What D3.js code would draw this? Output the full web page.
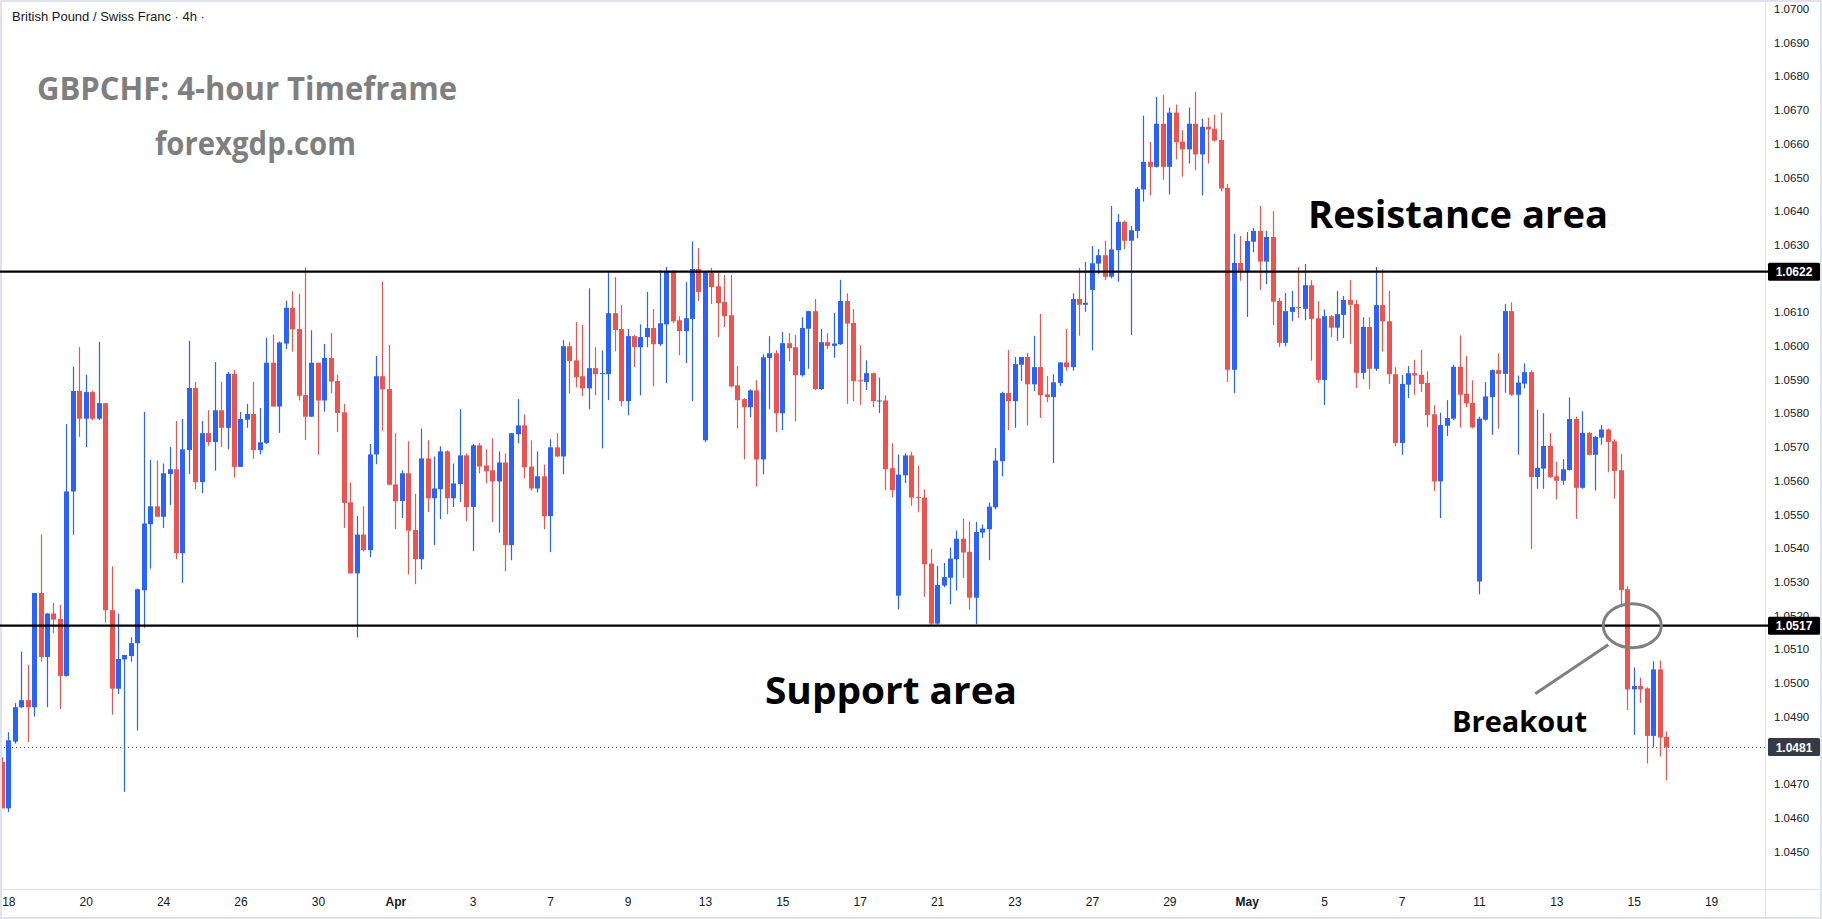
<!DOCTYPE html>
<html>
<head>
<meta charset="utf-8">
<script src="https://cdn.jsdelivr.net/npm/d3@7"></script>
<style>
  html, body { margin: 0; padding: 0; background: #fff; }
  svg { display: block; }
</style>
</head>
<body>
<svg id="chart"></svg>
<script>
// GBPCHF 4h candles, first one is the partly hidden candle at the left edge (index -1)
const opens = [1.04766,
  1.04628,1.04826,1.04928,1.04949,1.04928,1.05267,1.05077,1.05206,1.05190,1.05021,
  1.05568,1.05866,1.05784,1.05863,1.05784,1.05830,1.05216,1.04983,1.05070,1.05080,
  1.05118,1.05275,1.05471,1.05524,1.05493,1.05620,1.05634,1.05385,1.05691,1.05875,
  1.05596,1.05741,1.05715,1.05809,1.05757,1.05917,1.05641,1.05781,1.05798,1.05691,
  1.05712,1.05950,1.05820,1.06007,1.06113,1.06050,1.05854,1.05790,1.05950,1.05838,
  1.05964,1.05896,1.05803,1.05536,1.05325,1.05440,1.05394,1.05678,1.05910,1.05872,
  1.05589,1.05540,1.05622,1.05454,1.05367,1.05666,1.05548,1.05575,1.05687,1.05548,
  1.05590,1.05675,1.05522,1.05705,1.05645,1.05631,1.05598,1.05654,1.05409,1.05738,
  1.05764,1.05642,1.05577,1.05613,1.05495,1.05699,1.05672,1.05999,1.05957,1.05910,
  1.05874,1.05934,1.05916,1.05916,1.06097,1.06050,1.05836,1.06029,1.05996,1.06026,
  1.06053,1.06005,1.06064,1.06222,1.06076,1.06044,1.06080,1.06228,1.05720,1.06216,
  1.06177,1.06130,1.06091,1.05883,1.05842,1.05818,1.05868,1.05663,1.05964,1.05978,
  1.05800,1.06008,1.05996,1.05913,1.06051,1.06103,1.05872,1.06011,1.06000,1.06005,
  1.06133,1.06068,1.05898,1.05893,1.05919,1.05836,1.05838,1.05637,1.05259,1.05616,
  1.05675,1.05552,1.05550,1.05354,1.05176,1.05289,1.05312,1.05367,1.05428,1.05389,
  1.05253,1.05446,1.05456,1.05521,1.05658,1.05860,1.05836,1.05944,1.05967,1.05886,
  1.05937,1.05856,1.05848,1.05890,1.05951,1.05937,1.06139,1.06122,1.06166,1.06244,
  1.06269,1.06205,1.06284,1.06368,1.06312,1.06341,1.06464,1.06546,1.06531,1.06659,
  1.06531,1.06692,1.06606,1.06583,1.06659,1.06568,1.06650,1.06644,1.06611,1.06469,
  1.05929,1.06246,1.06223,1.06309,1.06341,1.06250,1.06323,1.06133,1.06009,1.06101,
  1.06115,1.06110,1.06180,1.06082,1.05899,1.06088,1.06054,1.06092,1.06136,1.06124,
  1.05920,1.06056,1.05932,1.06121,1.06073,1.05916,1.05712,1.05885,1.05919,1.05914,
  1.05890,1.05797,1.05598,1.05763,1.05784,1.05938,1.05858,1.05831,1.05301,1.05781,
  1.05848,1.05928,1.05917,1.06103,1.05855,1.05888,1.05922,1.05611,1.05636,1.05703,
  1.05613,1.05600,1.05632,1.05783,1.05579,1.05742,1.05677,1.05728,1.05752,1.05717,
  1.05631,1.05278,1.04981,1.04991,1.04984,1.04843,1.05040,1.04840];

const highs = [1.04780,
  1.04854,1.04940,1.05093,1.05054,1.05267,1.05440,1.05208,1.05237,1.05232,1.05768,
  1.05938,1.05997,1.05914,1.05867,1.06012,1.05830,1.05346,1.05206,1.05083,1.05136,
  1.05280,1.05804,1.05662,1.05660,1.05651,1.05700,1.05777,1.05783,1.06015,1.05893,
  1.05777,1.05809,1.05952,1.05893,1.05923,1.05929,1.05804,1.05828,1.05893,1.05816,
  1.06024,1.06033,1.06013,1.06134,1.06162,1.06155,1.06233,1.06046,1.05950,1.06006,
  1.06039,1.05914,1.05828,1.05595,1.05495,1.05524,1.05709,1.05970,1.06190,1.06003,
  1.05741,1.05631,1.05717,1.05561,1.05755,1.05720,1.05672,1.05702,1.05690,1.05651,
  1.05812,1.05681,1.05709,1.05712,1.05693,1.05726,1.05687,1.05681,1.05741,1.05842,
  1.05797,1.05720,1.05687,1.05648,1.05723,1.05741,1.06017,1.06011,1.06071,1.06062,
  1.06171,1.05996,1.05987,1.06218,1.06204,1.06121,1.06050,1.06032,1.06064,1.06160,
  1.06109,1.06225,1.06234,1.06225,1.06088,1.06189,1.06310,1.06290,1.06222,1.06231,
  1.06219,1.06210,1.06210,1.05940,1.05845,1.05871,1.05898,1.05975,1.06029,1.05987,
  1.06041,1.06038,1.06032,1.06085,1.06103,1.06139,1.06050,1.06038,1.06098,1.06196,
  1.06156,1.06109,1.06002,1.05957,1.05921,1.05906,1.05853,1.05711,1.05678,1.05681,
  1.05686,1.05645,1.05574,1.05398,1.05347,1.05356,1.05402,1.05452,1.05488,1.05478,
  1.05478,1.05470,1.05535,1.05697,1.05864,1.05988,1.05967,1.05967,1.05979,1.06030,
  1.06095,1.05911,1.05916,1.05951,1.06050,1.06156,1.06231,1.06249,1.06296,1.06287,
  1.06312,1.06415,1.06391,1.06372,1.06356,1.06471,1.06683,1.06605,1.06739,1.06745,
  1.06707,1.06716,1.06640,1.06707,1.06754,1.06674,1.06677,1.06686,1.06692,1.06481,
  1.06332,1.06326,1.06338,1.06350,1.06415,1.06341,1.06400,1.06142,1.06157,1.06163,
  1.06234,1.06243,1.06195,1.06133,1.06108,1.06091,1.06163,1.06148,1.06195,1.06136,
  1.06085,1.06085,1.06234,1.06227,1.06163,1.05937,1.05914,1.05940,1.05959,1.05988,
  1.05925,1.05824,1.05802,1.05839,1.05944,1.06031,1.05970,1.05898,1.05790,1.05893,
  1.05930,1.05978,1.06124,1.06129,1.05912,1.05948,1.05928,1.05810,1.05800,1.05742,
  1.05657,1.05664,1.05847,1.05790,1.05806,1.05745,1.05732,1.05765,1.05755,1.05723,
  1.05680,1.05287,1.05046,1.05016,1.04987,1.05064,1.05067,1.04856];

const lows = [1.04628,
  1.04617,1.04820,1.04925,1.04825,1.04900,1.05063,1.04928,1.05148,1.04923,1.05019,
  1.05440,1.05730,1.05700,1.05780,1.05780,1.05179,1.04906,1.04967,1.04677,1.05063,
  1.04859,1.05164,1.05339,1.05493,1.05460,1.05528,1.05367,1.05297,1.05620,1.05575,
  1.05563,1.05704,1.05630,1.05700,1.05693,1.05609,1.05641,1.05757,1.05665,1.05678,
  1.05709,1.05820,1.05742,1.05991,1.05983,1.05838,1.05721,1.05790,1.05677,1.05805,
  1.05859,1.05744,1.05460,1.05325,1.05135,1.05390,1.05373,1.05649,1.05748,1.05588,
  1.05456,1.05489,1.05322,1.05293,1.05337,1.05507,1.05409,1.05486,1.05501,1.05522,
  1.05537,1.05480,1.05391,1.05622,1.05592,1.05477,1.05446,1.05331,1.05364,1.05711,
  1.05607,1.05571,1.05565,1.05456,1.05388,1.05670,1.05619,1.05859,1.05877,1.05851,
  1.05812,1.05853,1.05696,1.05839,1.05984,1.05821,1.05794,1.05937,1.05853,1.05996,
  1.05880,1.06000,1.05889,1.06067,1.05972,1.05949,1.05836,1.06133,1.05715,1.06124,
  1.06026,1.06056,1.05877,1.05755,1.05663,1.05788,1.05583,1.05619,1.05812,1.05744,
  1.05750,1.05955,1.05776,1.05909,1.05932,1.05869,1.05869,1.05991,1.05965,1.06003,
  1.05828,1.05836,1.05825,1.05869,1.05818,1.05801,1.05572,1.05550,1.05218,1.05593,
  1.05526,1.05506,1.05256,1.05170,1.05170,1.05284,1.05233,1.05274,1.05311,1.05218,
  1.05174,1.05430,1.05364,1.05515,1.05613,1.05750,1.05757,1.05896,1.05764,1.05866,
  1.05786,1.05833,1.05652,1.05881,1.05926,1.05926,1.06030,1.06101,1.05987,1.06213,
  1.06195,1.06200,1.06190,1.06287,1.06032,1.06320,1.06428,1.06446,1.06529,1.06493,
  1.06449,1.06553,1.06502,1.06541,1.06521,1.06446,1.06541,1.06606,1.06458,1.05893,
  1.05860,1.06193,1.06086,1.06278,1.06166,1.06183,1.06062,1.05997,1.05999,1.06073,
  1.06083,1.06076,1.05956,1.05890,1.05824,1.06026,1.06015,1.06023,1.06006,1.05875,
  1.05901,1.05872,1.05926,1.05983,1.05887,1.05703,1.05677,1.05845,1.05855,1.05863,
  1.05758,1.05569,1.05489,1.05733,1.05780,1.05758,1.05818,1.05755,1.05263,1.05778,
  1.05736,1.05754,1.05861,1.05852,1.05677,1.05874,1.05397,1.05576,1.05576,1.05608,
  1.05544,1.05588,1.05630,1.05487,1.05576,1.05675,1.05571,1.05707,1.05625,1.05547,
  1.05225,1.04920,1.04846,1.04941,1.04761,1.04809,1.04782,1.04711];

const closes = [1.04628,
  1.04830,1.04928,1.04949,1.04928,1.05267,1.05077,1.05206,1.05188,1.05021,1.05568,
  1.05866,1.05784,1.05863,1.05784,1.05830,1.05216,1.04983,1.05071,1.05083,1.05118,
  1.05278,1.05473,1.05524,1.05493,1.05622,1.05634,1.05385,1.05693,1.05875,1.05596,
  1.05741,1.05715,1.05809,1.05757,1.05917,1.05641,1.05783,1.05798,1.05691,1.05714,
  1.05950,1.05820,1.06010,1.06113,1.06049,1.05852,1.05790,1.05950,1.05838,1.05964,
  1.05894,1.05801,1.05534,1.05325,1.05440,1.05394,1.05678,1.05910,1.05871,1.05588,
  1.05539,1.05622,1.05452,1.05367,1.05666,1.05548,1.05577,1.05687,1.05548,1.05592,
  1.05675,1.05522,1.05705,1.05642,1.05628,1.05598,1.05654,1.05409,1.05741,1.05764,
  1.05640,1.05577,1.05613,1.05495,1.05699,1.05672,1.05999,1.05955,1.05907,1.05874,
  1.05934,1.05916,1.05919,1.06097,1.06047,1.05836,1.06029,1.05996,1.06026,1.06053,
  1.06005,1.06067,1.06222,1.06073,1.06044,1.06082,1.06228,1.06160,1.06219,1.06174,
  1.06127,1.06088,1.05880,1.05839,1.05818,1.05868,1.05663,1.05966,1.05978,1.05800,
  1.06008,1.05993,1.05913,1.06053,1.06103,1.05872,1.06011,1.06000,1.06007,1.06133,
  1.06066,1.05896,1.05896,1.05919,1.05836,1.05838,1.05634,1.05572,1.05618,1.05675,
  1.05550,1.05550,1.05352,1.05176,1.05291,1.05314,1.05369,1.05428,1.05387,1.05253,
  1.05448,1.05458,1.05523,1.05660,1.05860,1.05836,1.05946,1.05967,1.05886,1.05937,
  1.05854,1.05848,1.05892,1.05951,1.05937,1.06139,1.06122,1.06128,1.06245,1.06269,
  1.06205,1.06286,1.06368,1.06312,1.06343,1.06466,1.06546,1.06531,1.06659,1.06531,
  1.06692,1.06604,1.06583,1.06659,1.06568,1.06650,1.06642,1.06609,1.06467,1.05929,
  1.06246,1.06223,1.06311,1.06341,1.06250,1.06323,1.06131,1.06009,1.06103,1.06115,
  1.06113,1.06180,1.06080,1.05899,1.06088,1.06054,1.06094,1.06136,1.06122,1.05920,
  1.06056,1.05932,1.06121,1.06073,1.05916,1.05712,1.05887,1.05919,1.05912,1.05887,
  1.05795,1.05598,1.05765,1.05786,1.05938,1.05855,1.05829,1.05758,1.05784,1.05850,
  1.05928,1.05917,1.06103,1.05855,1.05891,1.05922,1.05611,1.05638,1.05703,1.05611,
  1.05600,1.05634,1.05783,1.05579,1.05742,1.05677,1.05730,1.05752,1.05715,1.05629,
  1.05276,1.04981,1.04991,1.04981,1.04843,1.05040,1.04838,1.04810];

// time axis: label text and the candle slot it sits on
const dateLabels = ["18","20","24","26","30","Apr","3","7","9","13","15","17",
  "21","23","27","29","May","5","7","11","13","15","19"];
const dateSlots = [0,12,24,36,48,60,72,84,96,108,120,132,144,156,168,180,192,204,216,228,240,252,264];

const priceTicks = [1.0450,1.0460,1.0470,1.0480,1.0490,1.0500,1.0510,1.0520,1.0530,1.0540,
  1.0550,1.0560,1.0570,1.0580,1.0590,1.0600,1.0610,1.0620,1.0630,1.0640,1.0650,1.0660,
  1.0670,1.0680,1.0690,1.0700];

const levels = [1.0622, 1.0517];
const lastPrice = 1.0481;

var width = 1822, height = 919;
var plotRight = 1765, axisTop = 889;
var upColor = "#2962ff", downColor = "#ef5350";

var candles = opens.map(function (o, i) {
  return { i: i - 1, o: o, h: highs[i], l: lows[i], c: closes[i] };
});

var x = d3.scaleLinear().domain([0, 264]).range([8.3, 8.3 + 264 * 6.45]);
var y = d3.scaleLinear().domain([1.0450, 1.0700]).range([851.5, 8.8]);

var svg = d3.select("#chart")
  .attr("width", width)
  .attr("height", height)
  .style("font-family", "'Liberation Sans', Arial, sans-serif");

svg.append("rect").attr("width", width).attr("height", height).attr("fill", "#fff");

svg.append("defs").append("clipPath").attr("id", "plotClip")
  .append("rect").attr("x", 2).attr("y", 2).attr("width", plotRight - 2).attr("height", axisTop - 2);

// panel borders
svg.append("rect")
  .attr("x", 1).attr("y", 1).attr("width", width - 2).attr("height", height - 2)
  .attr("fill", "none").attr("stroke", "#e0e3eb").attr("stroke-width", 2);
svg.append("line")
  .attr("x1", plotRight + 0.5).attr("x2", plotRight + 0.5).attr("y1", 0).attr("y2", height)
  .attr("stroke", "#e0e3eb");
svg.append("line")
  .attr("x1", 0).attr("x2", width).attr("y1", axisTop + 0.5).attr("y2", axisTop + 0.5)
  .attr("stroke", "#e0e3eb");

var plot = svg.append("g").attr("clip-path", "url(#plotClip)");

// last price dotted line
plot.append("line")
  .attr("x1", 0).attr("x2", plotRight)
  .attr("y1", Math.round(y(lastPrice)) + 0.5).attr("y2", Math.round(y(lastPrice)) + 0.5)
  .attr("stroke", "#50535e").attr("stroke-width", 1).attr("stroke-dasharray", "1,3");

// candles
var cg = plot.selectAll("g.candle")
  .data(candles)
  .enter()
  .append("g")
  .attr("class", "candle");

cg.append("line")
  .attr("x1", function (d) { return Math.round(x(d.i)) + 0.5; })
  .attr("x2", function (d) { return Math.round(x(d.i)) + 0.5; })
  .attr("y1", function (d) { return y(d.h); })
  .attr("y2", function (d) { return y(d.l); })
  .attr("stroke", function (d) { return d.c >= d.o ? upColor : downColor; })
  .attr("stroke-width", 1.2);

cg.append("rect")
  .attr("x", function (d) { return Math.round(x(d.i)) + 0.5 - 2.5; })
  .attr("y", function (d) { return y(Math.max(d.o, d.c)); })
  .attr("width", 5)
  .attr("height", function (d) { return Math.max(1, Math.abs(y(d.o) - y(d.c))); })
  .attr("fill", function (d) { return d.c >= d.o ? upColor : downColor; });

// support / resistance
svg.selectAll("line.level")
  .data(levels)
  .enter()
  .append("line")
  .attr("class", "level")
  .attr("x1", 0).attr("x2", plotRight + 4)
  .attr("y1", function (d) { return y(d); })
  .attr("y2", function (d) { return y(d); })
  .attr("stroke", "#000").attr("stroke-width", 2.2);

// price axis, labels hidden where a price tag sits on top of them
var tagPrices = levels.concat([lastPrice]);
var shownTicks = priceTicks.filter(function (t) {
  return tagPrices.every(function (p) { return Math.abs(y(t) - y(p)) > 9; });
});
var yAxis = svg.append("g")
  .attr("transform", "translate(" + (plotRight + 1) + ",0)")
  .call(d3.axisRight(y).tickValues(shownTicks).tickFormat(d3.format(".4f")).tickSize(0).tickPadding(8));
yAxis.select(".domain").remove();
yAxis.selectAll("text")
  .attr("fill", "#131722")
  .style("font-size", "11.5px")
  .style("font-family", "'Liberation Sans', Arial, sans-serif");

// time axis
var xAxis = svg.append("g")
  .attr("transform", "translate(0," + axisTop + ")")
  .call(d3.axisBottom(x).tickValues(dateSlots).tickFormat(function (d, i) { return dateLabels[i]; })
    .tickSize(0).tickPadding(8));
xAxis.select(".domain").remove();
xAxis.selectAll("text")
  .attr("fill", "#131722")
  .style("font-size", "12px")
  .style("font-family", "'Liberation Sans', Arial, sans-serif")
  .style("font-weight", function (d, i) { return isNaN(+dateLabels[i]) ? "bold" : "normal"; });

// price tags on the axis
var tags = levels.map(function (v) { return { v: v, fill: "#000" }; })
  .concat([{ v: lastPrice, fill: "#363a45" }]);
var tg = svg.selectAll("g.tag").data(tags).enter().append("g").attr("class", "tag");
tg.append("rect")
  .attr("x", plotRight + 3).attr("width", 52)
  .attr("y", function (d) { return y(d.v) - 9; }).attr("height", 18)
  .attr("rx", 1.5)
  .attr("fill", function (d) { return d.fill; });
tg.append("text")
  .attr("x", plotRight + 29).attr("y", function (d) { return y(d.v) + 4.5; })
  .attr("text-anchor", "middle")
  .attr("fill", "#fff")
  .style("font-size", "12px").style("font-weight", "bold")
  .text(function (d) { return d.v.toFixed(4); });

// header + annotations
svg.append("text")
  .attr("x", 12).attr("y", 21)
  .attr("fill", "#131722")
  .style("font-size", "13px")
  .text("British Pound / Swiss Franc · 4h ·");

function label(txt, xPos, base, size, len, color) {
  svg.append("text")
    .attr("x", xPos).attr("y", base)
    .attr("textLength", len).attr("lengthAdjust", "spacingAndGlyphs")
    .attr("fill", color)
    .style("font-family", "'Open Sans', 'Noto Sans', sans-serif")
    .style("font-weight", "bold")
    .style("font-size", size + "px")
    .text(txt);
}
label("GBPCHF: 4-hour Timeframe", 37, 100, 32, 420, "#7f7f7f");
label("forexgdp.com", 155, 155, 32, 201, "#7f7f7f");
label("Resistance area", 1308, 228, 38, 300, "#000");
label("Support area", 765, 704, 38, 252, "#000");
label("Breakout", 1452, 732, 29, 135, "#000");

var bx = x(251);
svg.append("ellipse")
  .attr("cx", bx + 5).attr("cy", y(1.0517))
  .attr("rx", 29).attr("ry", 22)
  .attr("fill", "none").attr("stroke", "#808080").attr("stroke-width", 3);
svg.append("line")
  .attr("x1", bx - 19).attr("y1", y(1.0517) + 19)
  .attr("x2", bx - 92).attr("y2", y(1.0517) + 68)
  .attr("stroke", "#808080").attr("stroke-width", 3);
</script>
</body>
</html>
